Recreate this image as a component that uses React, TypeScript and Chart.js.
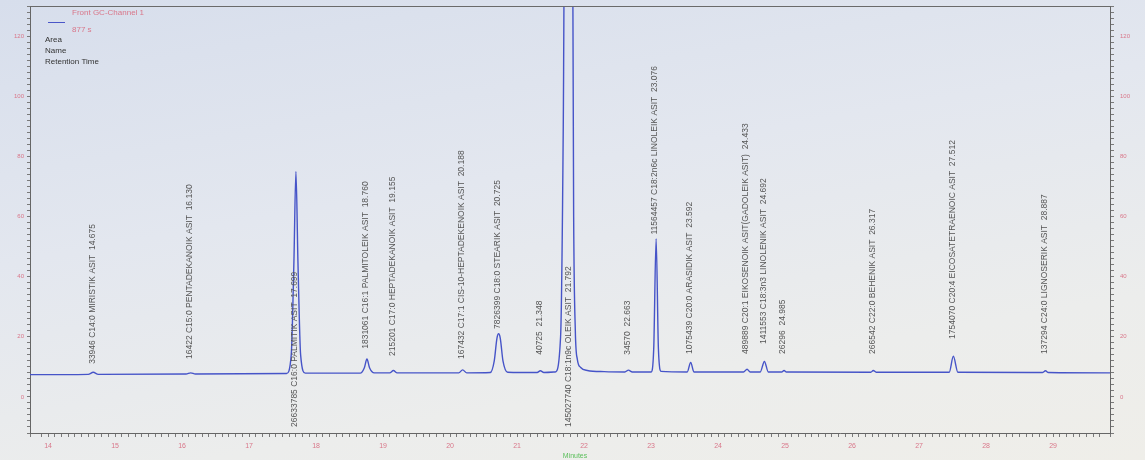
import React, { useEffect, useRef } from 'react';
import { Chart, registerables } from 'chart.js';

Chart.register(...registerables);

// Retention time (minutes) of the trace points
const timeMin = [
  13.73, 14.6, 14.675, 14.75, 16.06, 16.13, 16.2, 17.56, 17.63, 17.67, 17.7, 17.73, 17.77, 17.84,
  18.66, 18.72, 18.76, 18.8, 18.87, 19.1, 19.155, 19.21, 20.13, 20.188, 20.25, 20.6, 20.66, 20.7,
  20.725, 20.75, 20.79, 20.86, 21.3, 21.348, 21.4, 21.57, 21.65, 21.69, 21.72, 21.82, 21.845, 21.87,
  21.9, 21.95, 22.05, 22.3, 22.61, 22.663, 22.72, 23.0, 23.04, 23.076, 23.11, 23.15, 23.54, 23.592,
  23.64, 24.38, 24.433, 24.48, 24.63, 24.692, 24.75, 24.95, 24.985, 25.02, 26.28, 26.317, 26.36,
  27.45, 27.512, 27.58, 28.84, 28.887, 28.93, 29.85,
];

// Detector signal at those times
const signal = [
  7.4, 7.5, 8.2, 7.5, 7.6, 8.0, 7.6, 7.8, 14, 45, 75, 45, 14, 7.9,
  7.9, 9.6, 12.6, 9.6, 8.0, 8.0, 8.8, 8.0, 8.0, 9.0, 8.0, 8.1, 12, 19.5,
  21, 19.5, 12, 8.2, 8.1, 8.7, 8.1, 8.3, 20, 90, 200, 200, 60, 22,
  12.5, 9.8, 8.8, 8.4, 8.3, 8.9, 8.3, 8.3, 16, 52.6, 16, 8.5, 8.3, 11.5,
  8.3, 8.3, 9.2, 8.3, 8.3, 11.8, 8.3, 8.3, 8.8, 8.3, 8.2, 8.8, 8.2,
  8.2, 13.5, 8.2, 8.1, 8.7, 8.1, 8.0,
];

// Peak table
const peakTimes = [
  '14.675', '16.130', '17.699', '18.760', '19.155', '20.188', '20.725', '21.348', '21.792',
  '22.663', '23.076', '23.592', '24.433', '24.692', '24.985', '26.317', '27.512', '28.887',
];
const peakAreas = [
  '33946', '16422', '26633785', '1831061', '215201', '167432', '7826399', '40725', '145027740',
  '34570', '11564457', '1075439', '489889', '1411553', '26296', '266542', '1754070', '137294',
];
const peakNames = [
  'C14:0 MIRISTIK ASIT', 'C15:0 PENTADEKANOIK ASIT', 'C16:0 PALMITIK ASIT',
  'C16:1 PALMITOLEIK ASIT', 'C17:0 HEPTADEKANOIK ASIT', 'C17:1 CIS-10-HEPTADEKENOIK ASIT',
  'C18:0 STEARIK ASIT', '', 'C18:1n9c OLEIK ASIT', '', 'C18:2n6c LINOLEIK ASIT',
  'C20:0 ARASIDIK ASIT', 'C20:1 EIKOSENOIK ASIT(GADOLEIK ASIT)', 'C18:3n3 LINOLENIK ASIT', '',
  'C22:0 BEHENIK ASIT', 'C20:4 EICOSATETRAENOIC ASIT', 'C24:0 LIGNOSERIK ASIT',
];

const xTickMin = 13.731;
const xTickMax = 29.85;
const yMin = -12;
const yMax = 130;

const PINK = '#d9778a';
const FONT = '"Liberation Sans", Arial, sans-serif';

// where each vertical peak label starts (in signal units)
const labelStart = [11, 12.6, -10, 16, 13.6, 12.6, 22.6, 14, -10, 14, 54, 14.3, 14.3, 17.6, 14.3, 14.3, 19.3, 14.3];

const annotatePlugin = {
  id: 'annotate',
  afterDraw(chart: any) {
    const { ctx, chartArea, scales } = chart;
    const xs = scales.x;
    const ys = scales.y;
    ctx.save();
    // frame top
    ctx.strokeStyle = '#6a6a6a';
    ctx.lineWidth = 1;
    ctx.beginPath();
    ctx.moveTo(chartArea.left, chartArea.top + 0.5);
    ctx.lineTo(chartArea.right, chartArea.top + 0.5);
    ctx.stroke();

    // peak labels
    ctx.fillStyle = '#555555';
    ctx.font = `8.5px ${FONT}`;
    ctx.textAlign = 'left';
    ctx.textBaseline = 'middle';
    peakTimes.forEach((t, i) => {
      const x = xs.getPixelForValue(parseFloat(t)) - 1;
      const y = ys.getPixelForValue(labelStart[i]);
      const name = peakNames[i];
      const txt = name ? `${peakAreas[i]} ${name}  ${t}` : `${peakAreas[i]}  ${t}`;
      ctx.save();
      ctx.translate(x, y);
      ctx.rotate(-Math.PI / 2);
      ctx.fillText(txt, 0, 0);
      ctx.restore();
    });

    // header block
    ctx.textBaseline = 'middle';
    ctx.font = `8px ${FONT}`;
    ctx.fillStyle = PINK;
    ctx.fillText('Front GC-Channel 1', 72, 13);
    ctx.fillText('877 s', 72, 30);
    ctx.strokeStyle = '#4a56c8';
    ctx.beginPath();
    ctx.moveTo(48, 22.5);
    ctx.lineTo(65, 22.5);
    ctx.stroke();
    ctx.fillStyle = '#333';
    ctx.fillText('Area', 45, 40);
    ctx.fillText('Name', 45, 51);
    ctx.fillText('Retention Time', 45, 62);

    // axis title
    ctx.fillStyle = '#5cbf5c';
    ctx.font = `7px ${FONT}`;
    ctx.textAlign = 'center';
    ctx.fillText('Minutes', (chartArea.left + chartArea.right) / 2 + 5, 456);
    ctx.restore();
  },
};

export default function App() {
  const ref = useRef<HTMLCanvasElement>(null);
  useEffect(() => {
    const yTicks = (v: any) => {
      const n = Number(v);
      return Math.abs(n % 20) < 1e-6 && n >= 0 ? String(n) : '';
    };
    const fitY = (w: number) => (s: any) => {
      s.width = w;
      s.paddingTop = 0;
      s.paddingBottom = 0;
    };
    const chart = new Chart(ref.current as HTMLCanvasElement, {
      type: 'line',
      data: {
        datasets: [
          {
            data: timeMin.map((t, i) => ({ x: t, y: signal[i] })),
            borderColor: '#4654c8',
            borderWidth: 1.4,
            pointRadius: 0,
            cubicInterpolationMode: 'monotone',
            fill: false,
          },
        ],
      },
      options: {
        animation: false,
        responsive: false,
        layout: { padding: { top: 6, left: 0, right: 0, bottom: 0 } },
        plugins: { legend: { display: false }, tooltip: { enabled: false } },
        scales: {
          x: {
            type: 'linear',
            min: xTickMin,
            max: xTickMax,
            afterFit: (s: any) => {
              s.height = 27;
              s.paddingLeft = 0;
              s.paddingRight = 0;
            },
            ticks: {
              stepSize: 0.1,
              autoSkip: false,
              maxRotation: 0,
              minRotation: 0,
              padding: 5,
              color: PINK,
              font: { size: 7, family: FONT },
              callback: (v: any) => {
                const n = Number(v);
                return Math.abs(n - Math.round(n)) < 1e-6 ? String(Math.round(n)) : '';
              },
            },
            grid: { drawOnChartArea: false, drawTicks: true, tickLength: 4, tickColor: '#7a7a7a' },
            border: { display: true, color: '#666' },
          },
          y: {
            min: yMin,
            max: yMax,
            position: 'left',
            afterFit: fitY(30),
            ticks: { stepSize: 2, autoSkip: false, padding: 3, color: PINK, font: { size: 6, family: FONT }, callback: yTicks },
            grid: { drawOnChartArea: false, tickLength: 3, tickColor: '#7a7a7a' },
            border: { display: true, color: '#666' },
          },
          y2: {
            min: yMin,
            max: yMax,
            position: 'right',
            afterFit: fitY(35),
            ticks: { stepSize: 2, autoSkip: false, padding: 6, color: PINK, font: { size: 6, family: FONT }, callback: yTicks },
            grid: { drawOnChartArea: false, tickLength: 4, tickColor: '#7a7a7a' },
            border: { display: true, color: '#666' },
          },
        },
      } as any,
      plugins: [annotatePlugin],
    });
    return () => chart.destroy();
  }, []);
  return (
    <div
      style={{
        position: 'fixed',
        left: 0,
        top: 0,
        width: 1145,
        height: 460,
        background: 'linear-gradient(170deg, #d7deec 0%, #e3e7ef 40%, #ecedec 75%, #efeee9 100%)',
      }}
    >
      <canvas ref={ref} width={1145} height={460} style={{ display: 'block' }} />
    </div>
  );
}
